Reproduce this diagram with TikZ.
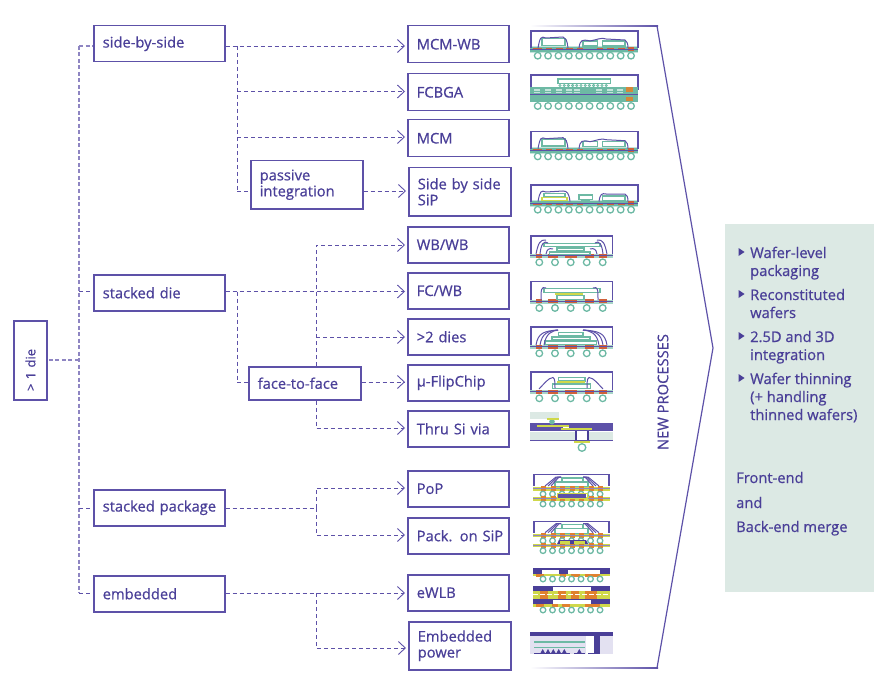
\documentclass[tikz,border=0pt]{standalone}
\usepackage{fontspec}
\setmainfont{Open Sans}[RawFeature={embolden=0.7}]
\usepackage{tikz}
\usetikzlibrary{arrows.meta}
\definecolor{inkcol}{HTML}{4A3F98}
\definecolor{linecol}{HTML}{5D51A8}
\definecolor{palecol}{HTML}{DCE9E4}
\definecolor{tealcol}{HTML}{6DB9A4}
\definecolor{padcol}{HTML}{D0603A}
\definecolor{orgcol}{HTML}{E0812E}
\definecolor{yelcol}{HTML}{CFD84A}
\definecolor{lavcol}{HTML}{E3E1F1}
\tikzset{
  boxnode/.style={draw=linecol,line width=1.5pt,text=inkcol,font=\fontsize{14.7}{16}\selectfont,
    align=left,anchor=north west,inner sep=0pt,inner xsep=9pt,minimum width=#1pt,text width=#1pt-18pt},
  lab/.style={text=inkcol,font=\fontsize{14.7}{18}\selectfont,anchor=base west,inner sep=0pt},
  conn/.style={draw=linecol,line width=.9pt,dash pattern=on 4pt off 3pt},
  trunk/.style={draw=linecol!70,line width=1.4pt,dash pattern=on 4pt off 2.5pt},
  arr/.style={conn,shorten >=2pt,-{Straight Barb[length=7pt,width=13pt,line width=.9pt]}},
  frame/.style={draw=linecol,line width=1.3pt},
  dieb/.style={draw=tealcol,fill=white,line width=1.4pt},
  wire/.style={draw=linecol,line width=1pt},
  ball/.style={draw=tealcol,fill=white,line width=1.3pt},
}
% icon with ten balls, #1 = shift
\newcommand{\wideicon}[1]{
 \fill[tealcol!40] (530,46+#1) rectangle (638,53+#1);
 \fill[tealcol] (530,47+#1) rectangle (638,52+#1);
 \foreach \a/\b in {533/542,546/552,556/563,566/573,577/583,597/603,607/614,618/625}
   \fill[padcol] (\a,48.5+#1) rectangle (\b,50.5+#1);
 \fill[padcol] (628,47+#1) rectangle (634,51+#1);
 \draw[linecol,line width=.6pt] (530,49.5+#1) -- (638,49.5+#1);
 \draw[frame] (531,48+#1) -- (531,31+#1) -- (638,31+#1) -- (638,48+#1);
 \foreach \i in {0,...,9} \draw[ball] (537.7+10.37*\i,55.7+#1) circle (3.3);
}
% icon with five balls
\newcommand{\narrowicon}[1]{
 \fill[tealcol!60] (530,254+#1) rectangle (613,258+#1);
 \foreach \a/\b in {536/542,548/558,565/577,585/594,599/607}
   \fill[padcol] (\a,253.5+#1) rectangle (\b,257.5+#1);
 \draw[linecol,line width=.6pt] (530,255.5+#1) -- (613,255.5+#1);
 \draw[frame] (531,254+#1) -- (531,236+#1) -- (612.5,236+#1) -- (612.5,254+#1);
 \foreach \x in {539.3,555,570.7,586.7,602.7} \draw[ball] (\x,262.3+#1) circle (3.3);
}
% one board with pads and a row of balls
\newcommand{\boardrow}[2]{
 \fill[yelcol] (533,#1) rectangle (610,#1+3.5);
 \foreach \i in {0,...,6} \fill[orgcol] (541+9.5*\i,#1-.7) rectangle (546+9.5*\i,#1+4);
 \draw[linecol!70,line width=.5pt] (533,#1+1.7) -- (610,#1+1.7);
 \foreach \i in {0,...,6} \draw[ball] (543+9.5*\i,#2) circle (2.8);
}
% two package boards
\newcommand{\stackicon}[1]{
 \draw[frame] (534,486+#1) -- (534,474.5+#1) -- (609,474.5+#1) -- (609,486+#1);
 \draw[dieb] (562,478+#1) rectangle (583,481.5+#1);
 \draw[dieb] (555,482+#1) rectangle (588,486.5+#1);
 \foreach \a in {0,3,6} {
  \draw[wire] (545+\a,486+#1) -- (556+\a*.5,477+#1) -- (561,477+#1);
  \draw[wire] (599-\a,486+#1) -- (588-\a*.5,477+#1) -- (583,477+#1);
 }
 \boardrow{487+#1}{494+#1}
 \boardrow{497+#1}{504+#1}
}
\begin{document}
\begin{tikzpicture}[x=1pt,y=-1pt]
\useasboundingbox (0,0) rectangle (889,690);

% root and first level
\node[boxnode=33,minimum height=79pt,inner xsep=0pt,text width=33pt,align=center,anchor=center,font=\fontsize{13}{16}\selectfont] (root) at (30.5,360.5) {\rotatebox{90}{> 1 die\hspace{19pt}}};
\node[boxnode=131,minimum height=36pt] (side) at (93,25) {side-by-side};
\node[boxnode=131,minimum height=36pt] (stacked) at (93,274) {stacked die};
\node[boxnode=131,minimum height=36pt] (stackpack) at (93,489) {\mbox{stacked package}};
\node[boxnode=131,minimum height=36pt] (embedded) at (93,575) {embedded};
\node[boxnode=112,minimum height=48pt] (passive) at (250,160) {passive\\integration};
\node[boxnode=112,minimum height=33pt] (facetoface) at (248,366) {face-to-face};

% packages
\node[boxnode=101,minimum height=37pt] (mcmwb) at (407,25) {MCM-WB};
\node[boxnode=101,minimum height=37pt] (fcbga) at (407,73) {FCBGA};
\node[boxnode=101,minimum height=37pt] (mcm) at (407,119) {MCM};
\node[boxnode=102,minimum height=48pt] (sip) at (408,167) {Side by side\\SiP};
\node[boxnode=101,minimum height=36pt] (wbwb) at (407,226) {WB/WB};
\node[boxnode=101,minimum height=36pt] (fcwb) at (407,272) {FC/WB};
\node[boxnode=101,minimum height=36pt] (dies) at (407,318) {>2 dies};
\node[boxnode=101,minimum height=36pt] (flip) at (407,364) {µ-FlipChip};
\node[boxnode=101,minimum height=36pt] (thru) at (407,410) {Thru Si via};
\node[boxnode=101,minimum height=36pt] (pop) at (407,470) {PoP};
\node[boxnode=101,minimum height=36pt] (packsip) at (407,517) {\mbox{Pack. on SiP}};
\node[boxnode=101,minimum height=36pt] (ewlb) at (407,574) {eWLB};
\node[boxnode=102,minimum height=48pt] (power) at (408,621) {Embedded\\power};

% junctions
\coordinate (jroot) at (79,360);
\coordinate (jside) at (79,46);
\coordinate (jstack) at (79,291.5);
\coordinate (jpack) at (79,508);
\coordinate (jemb) at (79,593);
\coordinate (ja) at (237,46);
\coordinate (jb) at (237,91.5);
\coordinate (jc) at (237,137);
\coordinate (jd) at (237,191);
\coordinate (je) at (237,291.5);
\coordinate (jf) at (237,382);
\coordinate (jg) at (316,245);
\coordinate (jh) at (316,291.5);
\coordinate (ji) at (316,337);
\coordinate (jj) at (316,428);
\coordinate (jk) at (316,488);
\coordinate (jl) at (316,508);
\coordinate (jm) at (316,535);
\coordinate (jn) at (316,593);
\coordinate (jo) at (316,648);

\draw[trunk] (jside) -- (jemb);
\draw[trunk,shorten <=1pt] (root.east |- jroot) -- (jroot);
\draw[trunk] (jside) -- (jside -| side.west);
\draw[conn] (jstack) -- (jstack -| stacked.west);
\draw[conn] (jpack) -- (jpack -| stackpack.west);
\draw[conn] (jemb) -- (jemb -| embedded.west);

\draw[arr] (side.east |- ja) -- (ja -| mcmwb.west);
\draw[conn] (ja) -- (jd);
\draw[arr] (jb) -- (jb -| fcbga.west);
\draw[arr] (jc) -- (jc -| mcm.west);
\draw[conn] (jd) -- (jd -| passive.west);
\draw[arr] (passive.east |- jd) -- (jd -| sip.west);

\draw[arr] (stacked.east |- je) -- (je -| fcwb.west);
\draw[conn] (je) -- (jf);
\draw[conn] (jf) -- (jf -| facetoface.west);
\draw[arr] (facetoface.east |- jf) -- (jf -| flip.west);
\draw[arr] (facetoface.north -| jg) -- (jg) -- (jg -| wbwb.west);
\draw[arr] (ji) -- (ji -| dies.west);
\draw[arr] (facetoface.south -| jj) -- (jj) -- (jj -| thru.west);

\draw[conn] (stackpack.east |- jl) -- (jl);
\draw[arr] (jl) -- (jk) -- (jk -| pop.west);
\draw[arr] (jl) -- (jm) -- (jm -| packsip.west);
\draw[arr] (embedded.east |- jn) -- (jn -| ewlb.west);
\draw[arr] (jn) -- (jo) -- (jo -| power.west);

% MCM-WB
\wideicon{0}
\draw[dieb] (542,38.5) rectangle (565,45.5);
\draw[dieb] (583,41) rectangle (597.5,46);
\draw[dieb] (602.5,41) rectangle (625,46);
\draw[wire] (538,48) .. controls (540,37) and (541,36) .. (546,38) -- (563,37) .. controls (566,38) and (567,40) .. (568,48);
\draw[wire] (579,48) .. controls (580,40) and (582,39) .. (590,41) .. controls (596,40) and (602,37) .. (606,39) -- (625,40) .. controls (627,41) and (628,44) .. (628,48);

% FCBGA
\draw[frame] (531,90) -- (531,75) -- (638,75) -- (638,90);
\fill[tealcol] (530,87.5) rectangle (638,102);
\foreach \a in {534,545,556,566,574,596,607,617} \fill[white!60!tealcol] (\a,89.5) rectangle (\a+6,91.5);
\foreach \a in {534,545,556,566,574,596,607,617} \fill[white!60!tealcol] (\a,92.3) rectangle (\a+6,93);
\foreach \a/\b in {534/542,546/552,556/563,567/573,577/583,597/603,607/614,618/625,627/634}
  \fill[padcol] (\a,93.7) rectangle (\b,95.5);
\fill[orgcol!90!tealcol] (626,87.5) rectangle (633,92);
\fill[orgcol!90!tealcol] (626,97) rectangle (633,101);
\draw[linecol,line width=.5pt] (530,94.5) -- (638,94.5);
\draw[dieb] (558,79) rectangle (610.5,83.5);
\foreach \i in {0,...,11} \draw[tealcol,line width=.8pt] (560+4.2*\i,85.5) circle (1.1);
\foreach \i in {0,...,9} \draw[ball] (537.7+10.37*\i,106) circle (3.3);

% MCM
\wideicon{100.7}
\draw[dieb] (542,139.2) rectangle (565,146.2);
\draw[dieb] (583,141.7) rectangle (597.5,146.7);
\draw[dieb] (602.5,141.7) rectangle (625,146.7);
\draw[wire] (538,148.7) .. controls (540,137.7) and (541,136.7) .. (546,138.7) -- (563,137.7) .. controls (566,138.7) and (567,140.7) .. (568,148.7);
\draw[wire] (579,148.7) .. controls (580,140.7) and (582,139.7) .. (590,141.7) .. controls (596,140.7) and (602,137.7) .. (606,139.7) -- (625,140.7) .. controls (627,141.7) and (628,144.7) .. (628,148.7);

% Side by side SiP
\wideicon{154}
\draw[dieb] (544,193.5) rectangle (565,197);
\draw[yelcol,fill=white,line width=1.2pt] (542,197.5) rectangle (567,200.5);
\draw[dieb] (579,195) rectangle (592.5,199.5);
\draw[tealcol,line width=1.2pt] (581,200) -- (590,200);
\draw[dieb] (602.5,196) rectangle (625,200.5);
\draw[wire] (538,201.5) .. controls (540,191) and (541,190) .. (546,192) -- (563,191) .. controls (567,191) and (569,193) .. (570,201.5);
\draw[wire] (599,201.5) .. controls (600,194) and (602,193) .. (606,194) -- (625,194) .. controls (627,195) and (628,197) .. (628,201.5);

% WB/WB
\narrowicon{0}
\draw[dieb] (544,243.5) rectangle (600,246.5);
\draw[dieb] (557,248) rectangle (584,251);
\draw[dieb] (549.5,252) rectangle (590,254.5);
\draw[wire] (536,254) .. controls (538,244) and (540,239) .. (546,240);
\draw[wire] (540,254) .. controls (541,244) and (544,240) .. (548,243);
\draw[wire] (607,254) .. controls (605,244) and (603,239) .. (597,240);
\draw[wire] (603,254) .. controls (602,244) and (599,240) .. (595,243);
\draw[wire] (546,254) .. controls (547,249) and (549,248) .. (553,249);
\draw[wire] (597,254) .. controls (596,249) and (594,248) .. (590,249);

% FC/WB
\narrowicon{45.7}
\draw[dieb] (544,288.5) rectangle (600,292.5);
\draw[dieb] (557,295.5) rectangle (584,299.5);
\draw[yelcol,line width=1.2pt] (555,294) -- (583,294);
\draw[wire] (541,300) .. controls (541,290) and (541,286) .. (546,288);
\draw[wire] (598,300) .. controls (598,290) and (598,286) .. (593,288);

% >2 dies
\narrowicon{91}
\draw[dieb] (558.5,332.5) rectangle (583,336);
\draw[dieb] (552,337) rectangle (590,340);
\draw[dieb] (545,341) rectangle (596.5,344.5);
\foreach \a in {0,4,8} {
 \draw[wire] (536+\a,345) .. controls (538+\a,333) and (544+\a,331) .. (558,330);
 \draw[wire] (607-\a,345) .. controls (605-\a,333) and (599-\a,331) .. (583,330);
}

% µ-FlipChip
\narrowicon{136}
\draw[dieb] (558.5,377.5) rectangle (585,381);
\fill[yelcol] (557,381) rectangle (585,383.5);
\draw[dieb] (552.5,384) rectangle (590.5,388.5);
\draw[wire] (539,389) .. controls (544,384) and (548,378) .. (553,377.5) .. controls (555,378) and (555,384) .. (555,388);
\draw[wire] (603,389) .. controls (598,384) and (594,378) .. (589,377.5) .. controls (587,378) and (587,384) .. (587,388);

% Thru Si via
\fill[palecol] (530,412) rectangle (559,419);
\fill[linecol] (530,423) rectangle (612.5,431);
\fill[palecol] (530,432) rectangle (575,440);
\fill[palecol] (588,432) rectangle (612.5,440);
\fill[inkcol] (575,431) rectangle (577,441);
\fill[inkcol] (587,431) rectangle (589,441);
\fill[tealcol] (552,421.7) circle (2.8);
\fill[yelcol] (547,417.5) rectangle (559,419.5);
\fill[yelcol] (537,425) rectangle (569,427);
\fill[white] (563,427) rectangle (569,428.5);
\fill[yelcol] (561,428) rectangle (592,430);
\draw[linecol,line width=1pt] (530,440.5) -- (612.5,440.5);
\fill[yelcol] (574,441) rectangle (590,443);
\draw[ball] (582,447.5) circle (3.8);

% PoP
\stackicon{0}
\fill[linecol] (558,494) rectangle (586,497.5);
\draw[yelcol,line width=.9pt] (557,493.5) rectangle (587,498);

% Pack. on SiP
\stackicon{46.7}
\fill[inkcol] (557,544) -- (559,540) -- (586,540) -- (588,544) -- cycle;
\fill[yelcol] (559.5,541.3) rectangle (570,544);
\fill[yelcol] (573.5,541.3) rectangle (585,544);

% eWLB
\fill[inkcol] (533,568.3) rectangle (610,573.5);
\fill[white] (541.5,570.3) rectangle (559,573.5);
\fill[white] (567.5,570.3) rectangle (599.5,573.5);
\fill[yelcol] (533,573.5) rectangle (610,576);
\foreach \a/\b in {536/544,560/566,571/580,585/600} \fill[orgcol] (\a,573.5) rectangle (\b,576.5);
\foreach \i in {0,...,6} \draw[ball] (543+9.5*\i,579) circle (2.8);
\fill[inkcol] (533,585.7) rectangle (610,590.7);
\fill[white] (552.7,587.3) rectangle (590.7,590.7);
\fill[yelcol] (533,590.7) rectangle (610,599);
\foreach \a/\b in {540/548,558/566,571/579,585/597} \fill[orgcol] (\a,590.7) rectangle (\b,598.7);
\draw[white,line width=.8pt,dash pattern=on 5pt off 2pt] (533,594.5) -- (610,594.5);
\fill[inkcol] (533,599) rectangle (610,603.7);
\fill[white] (552.7,600.3) rectangle (590.7,603.7);
\fill[yelcol] (533,603.7) rectangle (610,606.7);
\foreach \a/\b in {536/544,552/558,562/570,585/600} \fill[orgcol] (\a,603.7) rectangle (\b,606.7);
\foreach \i in {0,...,6} \draw[ball] (543+9.5*\i,610) circle (2.8);

% Embedded power
\fill[lavcol] (530,632.3) rectangle (612.7,653.7);
\fill[white] (585.7,636.3) rectangle (594,654);
\fill[inkcol] (530,632.3) rectangle (612.7,636.3);
\fill[inkcol] (594,636.3) rectangle (600,654);
\fill[tealcol] (534,640.7) rectangle (585,642.7);
\fill[tealcol] (534,646.7) rectangle (585,648.3);
\foreach \x in {542.7,548,553.3,558.7,564.3,579.3} \fill[inkcol] (\x-2.2,653) -- (\x,649) -- (\x+2.2,653) -- cycle;
\fill[inkcol] (534,653) rectangle (570,654);
\fill[inkcol] (574,653) rectangle (585,654);
\fill[inkcol] (588,653) rectangle (600,654);

% chevron
\shade[left color=white,right color=linecol] (530,25.5) rectangle (658,26.5);
\shade[left color=white,right color=linecol] (530,667.5) rectangle (658,668.5);
\draw[linecol,line width=1.2pt,line join=miter] (657,26) -- (713,348) -- (657,668);
\node[text=inkcol,font=\fontsize{14.7}{16}\selectfont,rotate=90,inner sep=0pt] (newproc) at (663,392) {NEW PROCESSES};

% merge panel
\fill[palecol] (724.5,224) rectangle (874,592);
\foreach \y in {252,294,336,378} \fill[inkcol] (738.5,\y-4) -- (744.5,\y) -- (738.5,\y+4) -- cycle;
\node[lab] (wl) at (750,258) {Wafer-level};
\node[lab] (wlb) at (750,276) {packaging};
\node[lab] (rc) at (750,300) {Reconstituted};
\node[lab] (rcb) at (750,318) {wafers};
\node[lab] (td) at (750,342) {2.5D and 3D};
\node[lab] (tdb) at (750,360) {integration};
\node[lab] (wt) at (750,384) {Wafer thinning};
\node[lab] (wtb) at (750,402) {(+ handling};
\node[lab] (wtc) at (750,420) {thinned wafers)};
\node[lab] (fe) at (736,483) {Front-end};
\node[lab] (an) at (736,508) {and};
\node[lab] (be) at (736,532) {Back-end merge};
\end{tikzpicture}
\end{document}
